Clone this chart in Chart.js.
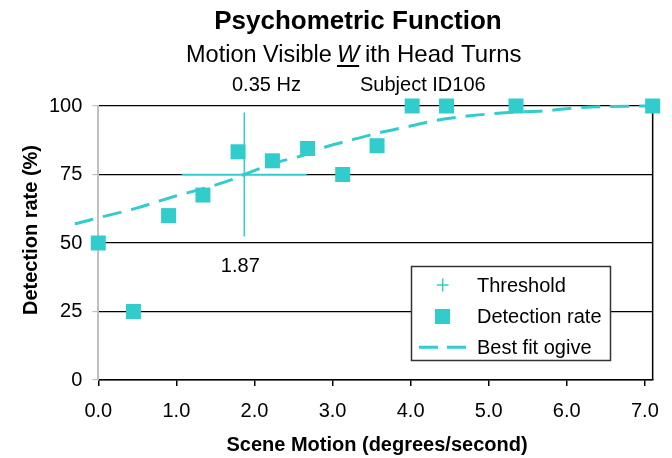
<!DOCTYPE html>
<html><head><meta charset="utf-8">
<script src="https://cdn.jsdelivr.net/npm/chart.js@4.4.1/dist/chart.umd.min.js"></script>
<style>html,body{margin:0;padding:0;background:#fff;overflow:hidden}</style>
</head><body>
<canvas id="c" width="672" height="458" style="display:block;width:672px;height:458px"></canvas>
<script>
const chartTitle = 'Psychometric Function';
const subtitleParts = ['Motion Visible ', 'W', 'ith Head Turns'];
const frequencyLabel = '0.35 Hz';
const subjectLabel = 'Subject ID106';
const xAxisTitle = 'Scene Motion (degrees/second)';
const yAxisTitle = 'Detection rate (%)';
const seriesNames = ['Threshold', 'Detection rate', 'Best fit ogive'];
const xTicks = [0, 1, 2, 3, 4, 5, 6, 7];
const yTicks = [0, 25, 50, 75, 100];
const sceneMotion = [0, 0.45, 0.9, 1.34, 1.79, 2.23, 2.68, 3.13, 3.57, 4.02, 4.46, 5.35, 7.1];
const detectionRate = [50, 25, 60, 67.5, 83.3, 80, 84.5, 75, 85.5, 100, 100, 100, 100];
const ogiveX = [-0.69, -0.3, 0.0, 0.5, 0.96, 1.4, 1.72, 1.87, 2.32, 2.57, 2.95, 3.19, 3.56, 4.0, 4.3, 4.79, 5.25, 5.75, 6.1, 6.49, 7.1];
const ogiveY = [55.1, 57.0, 59.2, 62.8, 66.9, 70.3, 73.2, 75.0, 79.7, 81.5, 85.4, 87.2, 90.0, 92.7, 94.6, 96.5, 97.6, 98.3, 99.3, 99.8, 100];
const threshold = [1.87, 75];        // x, y
const thresholdError = [0.8, 22.6];  // x half-span, y half-span

const FONT = '"Liberation Sans", Arial, sans-serif';
const CYAN = '#33CCCC';

const pointsData = sceneMotion.map((x, i) => ({x, y: detectionRate[i]}));
const ogiveData = ogiveX.map((x, i) => ({x, y: ogiveY[i]}));
const thresholdData = [
  {x: threshold[0] - thresholdError[0], y: threshold[1]},
  {x: threshold[0] + thresholdError[0], y: threshold[1]},
  {x: threshold[0], y: null},
  {x: threshold[0], y: threshold[1] - thresholdError[1]},
  {x: threshold[0], y: threshold[1] + thresholdError[1]}
];

const decor = {
  id: 'decor',
  beforeDatasetsDraw(chart) {
    const {ctx, chartArea: a} = chart;
    ctx.save();
    ctx.strokeStyle = '#000';
    ctx.lineWidth = 1.5;
    ctx.beginPath();
    ctx.moveTo(a.right, a.top);
    ctx.lineTo(a.right, a.bottom);
    ctx.stroke();
    ctx.restore();
  },
  afterDraw(chart) {
    const {ctx, scales} = chart;
    ctx.save();
    ctx.fillStyle = '#000';
    ctx.textBaseline = 'alphabetic';
    // title
    ctx.font = 'bold 26px ' + FONT;
    ctx.textAlign = 'center';
    ctx.fillText(chartTitle, 358, 29);
    // subtitle
    ctx.font = '23.5px ' + FONT;
    ctx.textAlign = 'left';
    ctx.fillText(subtitleParts[0], 186, 62);
    ctx.font = 'italic 23.5px ' + FONT;
    ctx.fillText(subtitleParts[1], 337, 62);
    const wW = ctx.measureText(subtitleParts[1]).width;
    ctx.fillRect(337, 65, wW, 2);
    ctx.font = '24px ' + FONT;
    ctx.fillText(subtitleParts[2], 365, 62);
    // info line
    ctx.font = '20px ' + FONT;
    ctx.fillText(frequencyLabel, 232, 91);
    ctx.fillText(subjectLabel, 360, 91);
    // threshold value label
    ctx.textAlign = 'center';
    ctx.fillText(threshold[0].toFixed(2), scales.x.getPixelForValue(threshold[0]) - 4, 272);
    // axis titles
    ctx.font = 'bold 20px ' + FONT;
    ctx.fillText(xAxisTitle, 377, 451);
    ctx.save();
    ctx.translate(37, 230);
    ctx.rotate(-Math.PI / 2);
    ctx.fillText(yAxisTitle, 0, 0);
    ctx.restore();
    // legend
    const L = 411.5, T = 266.5, W = 199, H = 94;
    ctx.fillStyle = '#fff';
    ctx.fillRect(L, T, W, H);
    ctx.strokeStyle = '#333';
    ctx.lineWidth = 1.5;
    ctx.strokeRect(L, T, W, H);
    ctx.strokeStyle = CYAN;
    ctx.fillStyle = CYAN;
    ctx.lineWidth = 1.5;
    ctx.beginPath();
    ctx.moveTo(437, 285); ctx.lineTo(448.5, 285);
    ctx.moveTo(442.7, 278.5); ctx.lineTo(442.7, 291.5);
    ctx.stroke();
    ctx.fillRect(435, 309, 15, 15);
    ctx.lineWidth = 3;
    ctx.setLineDash([19, 9]);
    ctx.beginPath();
    ctx.moveTo(419, 347.3); ctx.lineTo(466, 347.3);
    ctx.stroke();
    ctx.setLineDash([]);
    ctx.fillStyle = '#000';
    ctx.font = '20px ' + FONT;
    ctx.textAlign = 'left';
    ctx.fillText(seriesNames[0], 477, 292);
    ctx.fillText(seriesNames[1], 477, 323);
    ctx.fillText(seriesNames[2], 477, 354);
    ctx.restore();
  }
};

new Chart(document.getElementById('c'), {
  type: 'scatter',
  data: {
    datasets: [
      {label: seriesNames[1], data: pointsData, order: 0, pointStyle: 'rect', pointRadius: 10.6,
       backgroundColor: CYAN, borderColor: CYAN, borderWidth: 0, clip: false},
      {label: seriesNames[0], data: thresholdData, order: 1, showLine: true, spanGaps: false,
       pointRadius: 0, borderColor: CYAN, borderWidth: 1.5, clip: false},
      {label: seriesNames[2], data: ogiveData, order: 2, showLine: true, pointRadius: 0,
       borderColor: CYAN, borderWidth: 3, borderDash: [19, 10], cubicInterpolationMode: 'monotone', clip: false}
    ]
  },
  options: {
    responsive: false,
    devicePixelRatio: 1,
    animation: false,
    events: [],
    layout: {padding: {top: 106, right: 17.7, left: 0, bottom: 0}},
    plugins: {legend: {display: false}, title: {display: false}, tooltip: {enabled: false}},
    scales: {
      x: {
        type: 'linear', min: 0, max: 7.1,
        afterBuildTicks: s => { s.ticks = xTicks.map(v => ({value: v})); },
        afterFit: s => { s.height = 78; },
        border: {color: '#000', width: 1.5},
        grid: {drawOnChartArea: false, color: '#000', tickLength: 6, lineWidth: 1.5},
        ticks: {font: {family: FONT, size: 20}, color: '#000', padding: 13, maxRotation: 0,
                callback: v => Number(v).toFixed(1)}
      },
      y: {
        min: 0, max: 100,
        afterBuildTicks: s => { s.ticks = yTicks.map(v => ({value: v})); },
        afterFit: s => { s.width = 98.3; },
        border: {color: '#c0c0c0', width: 2},
        grid: {color: '#000', lineWidth: 1.2, tickColor: '#c0c0c0', tickLength: 6},
        ticks: {font: {family: FONT, size: 20}, color: '#000', padding: 10}
      }
    }
  },
  plugins: [decor]
});
</script>
</body></html>
